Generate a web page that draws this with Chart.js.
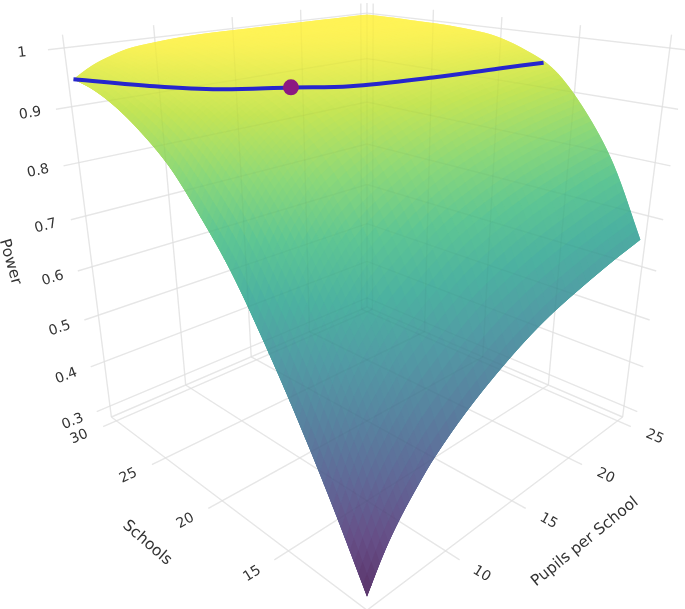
<!DOCTYPE html>
<html>
<head>
<meta charset="utf-8">
<title>Power surface</title>
<script src="https://cdn.jsdelivr.net/npm/chart.js@4"></script>
<style>
  html, body { margin: 0; padding: 0; background: #fff; }
  canvas { display: block; filter: blur(.35px); }
</style>
</head>
<body>
<canvas id="grafico" width="685" height="609"></canvas>
<script>
// === Data ===
const schools = [10, 12, 14, 16, 18, 20, 22, 24, 26, 28, 30];
const pupils = [5, 6, 7, 8, 9, 11, 13, 15, 17, 19, 21, 23, 25];

const power10 = [.30, .358, .402, .437, .468, .514, .55, .58, .603, .62, .635, .648, .659];
const power12 = [.42, .495, .548, .585, .618, .66, .697, .722, .742, .758, .77, .78, .788];
const power14 = [.53, .61, .665, .703, .733, .773, .805, .827, .843, .855, .864, .871, .877];
const power16 = [.63, .705, .76, .797, .825, .858, .882, .90, .913, .923, .93, .936, .94];
const power18 = [.72, .79, .835, .865, .888, .912, .928, .94, .949, .956, .961, .966, .97];
const power20 = [.79, .85, .885, .908, .925, .945, .957, .966, .973, .978, .982, .985, .988];
const power22 = [.85, .895, .922, .938, .95, .963, .973, .98, .985, .989, .991, .993, .995];
const power24 = [.89, .925, .945, .957, .966, .977, .985, .99, .993, .995, .996, .997, .998];
const power26 = [.92, .945, .96, .97, .978, .988, .993, .996, .997, .998, .999, .999, .999];
const power28 = [.94, .96, .974, .984, .99, .995, .997, .998, .999, .999, 1, 1, 1];
const power30 = [.95, .968, .98, .989, .993, .998, 1, 1, 1, 1, 1, 1, 1];
const powerRows = [power10, power12, power14, power16, power18, power20, power22, power24, power26, power28, power30];

// blue line on the surface and the selected design
const lineSchools = [30, 25.7, 23, 21, 19.3, 18.06, 17.3, 16.7];
const linePupils = [5, 6.8, 8.5, 11.1, 13.2, 17.6, 21.9, 25];
const linePower = [.95, .95, .95, .95, .95, .95, .95, .95];
const markerSchools = [21.05];
const markerPupils = [11.1];
const markerPower = [.95];

const schoolTicks = [15, 20, 25, 30];
const pupilTicks = [10, 15, 20, 25];
const powerTicks = [.3, .4, .5, .6, .7, .8, .9, 1];

// === Axis ranges and camera ===
const schoolRange = [10, 30.55];
const pupilRange = [5, 25.55];
const powerRange = [.2745, 1.022];
const powerColorRange = [.30, 1];
const boxHeight = 1.464, focal = 865, centerX = 367, centerY = 252;
const depth0 = 3.384, vert0 = -.6455, cosPitch = .9285, sinPitch = .3714;
const stub = .04, stepsS = 8, stepsP = 4, surfaceOpacity = .8;

const viridis = [[50,0,68],[64,36,106],[56,68,126],[46,100,136],[38,130,142],[31,158,137],[53,183,121],[110,206,88],[181,222,43],[255,240,45]];

// a = schools side, b = pupils side, w = height, all 0..1 inside the box
function view(a, b, w) {
    const l = b - a, d = 1 - a - b, z = w * boxHeight;
    const depth = depth0 - cosPitch * d - sinPitch * z;
    const vert = vert0 - sinPitch * d + cosPitch * z;
    return { x: centerX + focal * l / depth, y: centerY - focal * vert / depth };
}
const normS = s => (s - schoolRange[0]) / (schoolRange[1] - schoolRange[0]);
const normP = p => (p - pupilRange[0]) / (pupilRange[1] - pupilRange[0]);
const normZ = v => (v - powerRange[0]) / (powerRange[1] - powerRange[0]);
const project = (s, p, v) => view(normS(s), normP(p), normZ(v));

function surfaceColor(v) {
    let t = (v - powerColorRange[0]) / (powerColorRange[1] - powerColorRange[0]);
    t = Math.max(0, Math.min(1, t)) * (viridis.length - 1);
    const i = Math.min(Math.floor(t), viridis.length - 2), f = t - i;
    const c = [0, 1, 2].map(k => {
        const base = viridis[i][k] + (viridis[i + 1][k] - viridis[i][k]) * f;
        return Math.round(base * surfaceOpacity + 255 * (1 - surfaceOpacity));
    });
    return `rgb(${c[0]},${c[1]},${c[2]})`;
}

// smooth shading between table cells, the way the 3D surface is shaded
function smooth(xs, ys, x) {
    let k = 0;
    while (k < xs.length - 2 && x > xs[k + 1]) k++;
    const slope = i => {
        const lo = Math.max(i - 1, 0), hi = Math.min(i + 1, xs.length - 1);
        return (ys[hi] - ys[lo]) / (xs[hi] - xs[lo]);
    };
    const h = xs[k + 1] - xs[k], t = (x - xs[k]) / h;
    const t2 = t * t, t3 = t2 * t;
    return (2 * t3 - 3 * t2 + 1) * ys[k] + (t3 - 2 * t2 + t) * h * slope(k)
        + (-2 * t3 + 3 * t2) * ys[k + 1] + (t3 - t2) * h * slope(k + 1);
}

// === Grid lines ===
const gridSegments = [];
[0, 1].forEach(t => {
    gridSegments.push([view(t, 0, 0), view(t, 1, 0)]);
    gridSegments.push([view(0, t, 0), view(1, t, 0)]);
});
schoolTicks.forEach(s => {
    gridSegments.push([view(normS(s), -stub, 0), view(normS(s), 1, 0)]);
    gridSegments.push([view(normS(s), 1, 0), view(normS(s), 1, 1)]);
});
pupilTicks.forEach(p => {
    gridSegments.push([view(-stub, normP(p), 0), view(1, normP(p), 0)]);
    gridSegments.push([view(1, normP(p), 0), view(1, normP(p), 1)]);
});
powerTicks.forEach(v => {
    gridSegments.push([view(1, -stub, normZ(v)), view(1, 1, normZ(v))]);
    gridSegments.push([view(-stub, 1, normZ(v)), view(1, 1, normZ(v))]);
});
gridSegments.push([view(1, 0, 0), view(1, 0, 1)]);
gridSegments.push([view(0, 1, 0), view(0, 1, 1)]);
gridSegments.push([view(1, 1, 0), view(1, 1, 1)]);

const gridDataset = (seg, color, width) => ({
    data: seg, showLine: true, fill: false, borderColor: color, borderWidth: width, pointRadius: 0
});

// === Surface cells, nearest first because dataset 0 is painted last ===
const fineS = [], fineP = [];
schools.slice(0, -1).forEach((s, i) => {
    for (let m = 0; m < stepsS; m++) fineS.push(s + (schools[i + 1] - s) * m / stepsS);
});
fineS.push(schools[schools.length - 1]);
pupils.slice(0, -1).forEach((p, j) => {
    for (let n = 0; n < stepsP; n++) fineP.push(p + (pupils[j + 1] - p) * n / stepsP);
});
fineP.push(pupils[pupils.length - 1]);

const fineRows = fineP.map(p => powerRows.map(row => smooth(pupils, row, p)));
const heights = fineS.map(s => fineRows.map(row => Math.min(1, smooth(schools, row, s))));

// each cell reaches one step under its nearer neighbours, so no seam shows between them
const cells = [];
for (let si = 0; si < fineS.length - 1; si++) {
    for (let pj = 0; pj < fineP.length - 1; pj++) {
        const s0 = Math.max(si - 1, 0), p0 = Math.max(pj - 1, 0);
        const q = [[s0, p0], [si + 1, p0], [si + 1, pj + 1], [s0, pj + 1]];
        const mid = (heights[si][pj] + heights[si + 1][pj] + heights[si + 1][pj + 1] + heights[si][pj + 1]) / 4;
        const pts = q.concat([q[0]]).map(c => project(fineS[c[0]], fineP[c[1]], heights[c[0]][c[1]]));
        cells.push({ far: normS(fineS[si]) + normP(fineP[pj]), color: surfaceColor(mid), pts });
    }
}
cells.sort((a, b) => a.far - b.far);

const datasets = [];
datasets.push({
    data: markerSchools.map((s, i) => project(s, markerPupils[i], markerPower[i])),
    pointRadius: 8, pointBackgroundColor: 'rgb(140,25,130)', pointBorderWidth: 0, showLine: false
});
datasets.push({
    data: lineSchools.map((s, i) => project(s, linePupils[i], linePower[i])),
    showLine: true, fill: false, borderColor: 'rgb(38,38,205)', borderWidth: 4, pointRadius: 0, tension: .35
});
gridSegments.forEach(seg => datasets.push(gridDataset(seg, 'rgba(0,0,0,0.022)', 1.5)));
cells.forEach(c => datasets.push({
    data: c.pts, showLine: true, fill: 'shape', backgroundColor: c.color,
    borderWidth: 0, pointRadius: 0
}));
gridSegments.forEach(seg => datasets.push(gridDataset(seg, 'rgb(236,236,236)', 1.4)));

// === Axis text, turned along the tick line of each axis ===
const textColor = '#333';
const tickFont = '14px "DejaVu Sans"';
const titleFont = '15.5px "DejaVu Sans"';

const axisText = {
    id: 'axisText',
    afterDatasetsDraw(chart) {
        const { ctx, scales } = chart;
        const put = (text, pt, rot, font) => {
            ctx.save();
            ctx.translate(scales.x.getPixelForValue(pt.x), scales.y.getPixelForValue(pt.y));
            ctx.rotate(rot);
            ctx.font = font;
            ctx.fillStyle = textColor;
            ctx.textAlign = 'center';
            ctx.textBaseline = 'middle';
            ctx.fillText(text, 0, 0);
            ctx.restore();
        };
        const tick = (text, outer, inner) => {
            const dx = inner.x - outer.x, dy = inner.y - outer.y, len = Math.hypot(dx, dy);
            let rot = Math.atan2(dy, dx);
            if (rot > Math.PI / 2) rot -= Math.PI;
            if (rot < -Math.PI / 2) rot += Math.PI;
            put(text, { x: outer.x - dx / len * 26, y: outer.y - dy / len * 26 }, rot, tickFont);
        };
        powerTicks.forEach(v => tick(String(v).replace(/^\./, '0.'), view(1, -stub, normZ(v)), view(1, 0, normZ(v))));
        schoolTicks.forEach(s => tick(String(s), view(normS(s), -stub, 0), view(normS(s), 0, 0)));
        pupilTicks.forEach(p => tick(String(p), view(-stub, normP(p), 0), view(0, normP(p), 0)));
        put('Power', { x: 10, y: 262 }, 74 * Math.PI / 180, titleFont);
        put('Schools', { x: 147, y: 543 }, 41 * Math.PI / 180, titleFont);
        put('Pupils per School', { x: 585, y: 542 }, -39 * Math.PI / 180, titleFont);
    }
};

new Chart(document.getElementById('grafico').getContext('2d'), {
    type: 'scatter',
    data: { datasets },
    options: {
        responsive: false,
        animation: false,
        layout: { padding: 0, autoPadding: false },
        events: [],
        scales: {
            x: { type: 'linear', min: 0, max: 685, display: false, bounds: 'data' },
            y: { type: 'linear', min: 0, max: 609, reverse: true, display: false, bounds: 'data' }
        },
        plugins: { legend: { display: false }, tooltip: { enabled: false } }
    },
    plugins: [axisText]
});
</script>
</body>
</html>
